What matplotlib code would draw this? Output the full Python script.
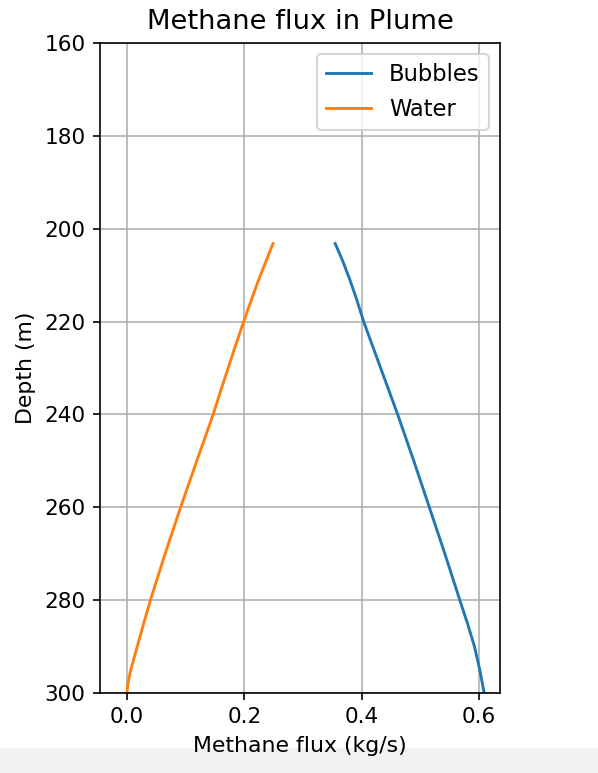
import numpy as np
import matplotlib
matplotlib.use("Agg")
import matplotlib.pyplot as plt
from matplotlib.patches import Rectangle

# methane flux profiles along the plume
depth = [203.2, 207, 211, 215, 220, 225, 230, 235, 240, 250, 260, 270, 280, 285, 290, 295, 298, 300]
bubbles = [0.355, 0.368, 0.380, 0.391, 0.4035, 0.418, 0.4325, 0.447, 0.4615, 0.489, 0.5155,
           0.542, 0.5675, 0.5805, 0.5925, 0.6015, 0.606, 0.609]
water = [0.249, 0.237, 0.2245, 0.213, 0.199, 0.1855, 0.1725, 0.1595, 0.147, 0.119, 0.0915,
         0.065, 0.040, 0.0285, 0.0175, 0.0065, 0.0015, 0.0]

dpi = 148
fig = plt.figure(figsize=(598 / dpi, 773 / dpi), dpi=dpi)
fig.patches.append(Rectangle((0, 0), 1, 24 / 773, transform=fig.transFigure,
                             color='#f1f1f1', zorder=-1))
ax = fig.add_axes([100 / 598, 1 - 693 / 773, 400 / 598, 650 / 773])

ax.plot(bubbles, depth, label='Bubbles', lw=1.4)
ax.plot(water, depth, label='Water', lw=1.4)

ax.set_ylim(300, 160)
ax.set_yticks(np.arange(160, 301, 20))
ax.set_xlim(-0.046, 0.636)
ax.set_xticks([0.0, 0.2, 0.4, 0.6])
ax.tick_params(labelsize=10.5)
ax.grid(True)
ax.set_xlabel('Methane flux (kg/s)', fontsize=10.7)
ax.set_ylabel('Depth (m)', fontsize=10.7)
ax.set_title('Methane flux in Plume', fontsize=13.3, pad=7)
ax.legend(loc='upper right', fontsize=11)

fig.savefig('out.png', dpi=dpi)
